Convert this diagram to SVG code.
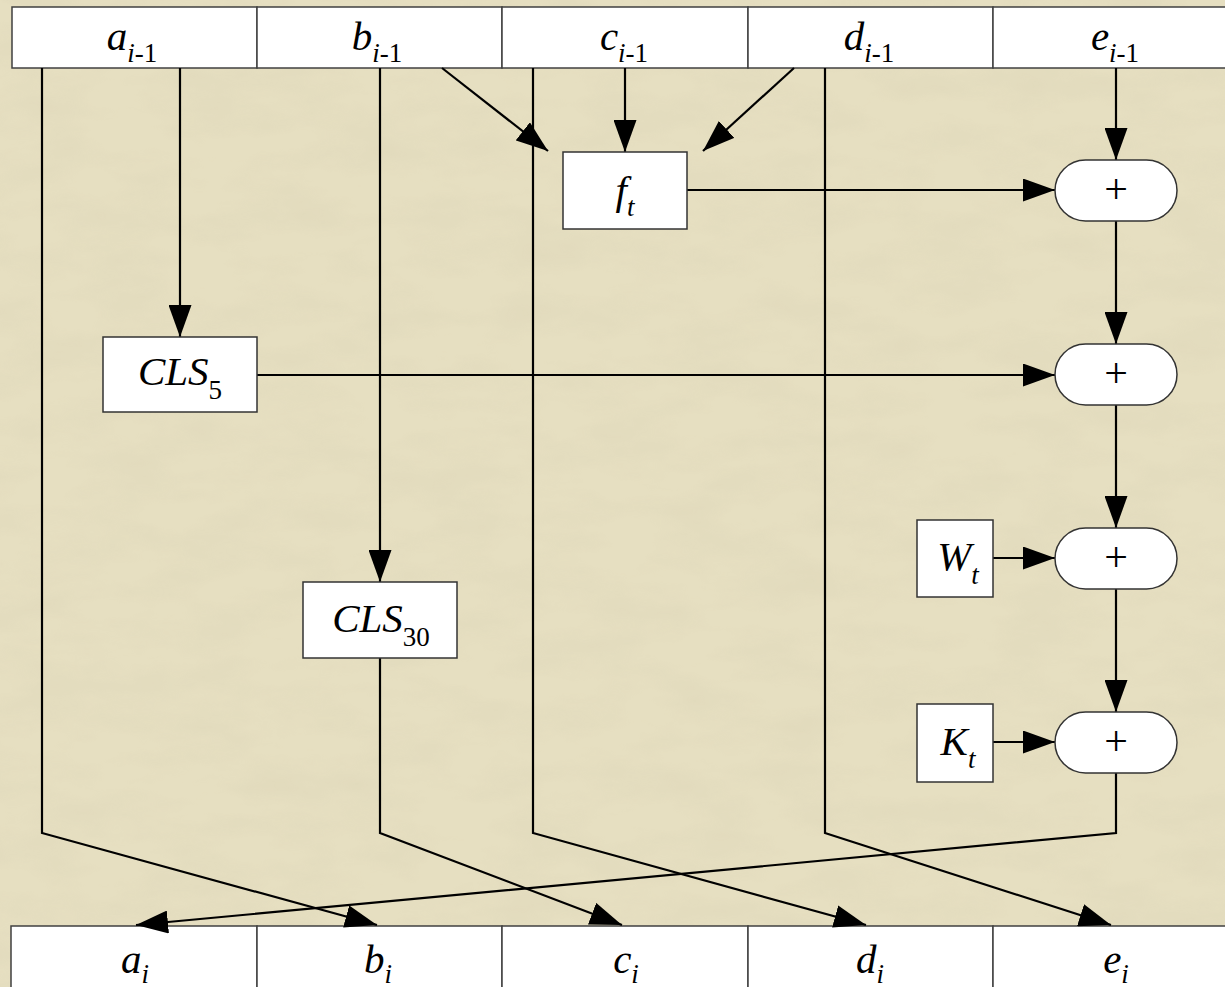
<svg xmlns="http://www.w3.org/2000/svg" width="1225" height="987" viewBox="0 0 1225 987">
<style>
.bg{fill:#e6dfc1}
.cell{fill:#ffffff;stroke:#404040;stroke-width:1.5}
.box{fill:#ffffff;stroke:#333333;stroke-width:1.5}
.wire{fill:none;stroke:#000000;stroke-width:2.2}
.t{font-family:"Liberation Serif","Times New Roman",serif;font-size:41px;fill:#000;text-anchor:middle}
.it{font-style:italic}
.sub{font-size:27px}
.plus{font-family:"Liberation Serif","Times New Roman",serif;font-size:42px;fill:#000;text-anchor:middle}
</style>
<defs>
<marker id="ah" markerUnits="userSpaceOnUse" viewBox="0 0 32 23" refX="32" refY="11.5" markerWidth="32" markerHeight="23" orient="auto">
<path d="M0,0 L32,11.5 L0,23 Z" fill="#000"/>
</marker>
<filter id="tex" x="0" y="0" width="100%" height="100%">
<feTurbulence type="fractalNoise" baseFrequency="0.012 0.03" numOctaves="4" seed="7"/>
<feColorMatrix type="matrix" values="0 0 0 0 0.55  0 0 0 0 0.5  0 0 0 0 0.35  0 0 0 0.5 -0.18"/>
</filter>
</defs>
<rect class="bg" x="0" y="0" width="1225" height="987"/>
<rect x="0" y="0" width="1225" height="987" filter="url(#tex)" opacity="0.45"/>

<g id="top-row">
<rect class="cell" x="12" y="7" width="245" height="61"/>
<rect class="cell" x="257" y="7" width="245" height="61"/>
<rect class="cell" x="502" y="7" width="246" height="61"/>
<rect class="cell" x="748" y="7" width="245" height="61"/>
<rect class="cell" x="993" y="7" width="245" height="61"/>
<text class="t" x="132" y="50"><tspan class="it">a</tspan><tspan class="it sub" dy="12">i</tspan><tspan class="sub">-1</tspan></text>
<text class="t" x="377" y="50"><tspan class="it">b</tspan><tspan class="it sub" dy="12">i</tspan><tspan class="sub">-1</tspan></text>
<text class="t" x="624" y="50"><tspan class="it">c</tspan><tspan class="it sub" dy="12">i</tspan><tspan class="sub">-1</tspan></text>
<text class="t" x="869" y="50"><tspan class="it">d</tspan><tspan class="it sub" dy="12">i</tspan><tspan class="sub">-1</tspan></text>
<text class="t" x="1115" y="50"><tspan class="it">e</tspan><tspan class="it sub" dy="12">i</tspan><tspan class="sub">-1</tspan></text>
</g>

<g id="bottom-row">
<rect class="cell" x="11" y="926" width="246" height="65"/>
<rect class="cell" x="257" y="926" width="245" height="65"/>
<rect class="cell" x="502" y="926" width="246" height="65"/>
<rect class="cell" x="748" y="926" width="245" height="65"/>
<rect class="cell" x="993" y="926" width="245" height="65"/>
<text class="t" x="135" y="973"><tspan class="it">a</tspan><tspan class="it sub" dy="10">i</tspan></text>
<text class="t" x="378" y="973"><tspan class="it">b</tspan><tspan class="it sub" dy="10">i</tspan></text>
<text class="t" x="626" y="973"><tspan class="it">c</tspan><tspan class="it sub" dy="10">i</tspan></text>
<text class="t" x="870" y="973"><tspan class="it">d</tspan><tspan class="it sub" dy="10">i</tspan></text>
<text class="t" x="1116" y="973"><tspan class="it">e</tspan><tspan class="it sub" dy="10">i</tspan></text>
</g>

<g id="connectors">
<path class="wire" d="M180,68 V337" marker-end="url(#ah)"/>
<path class="wire" d="M380,68 V582" marker-end="url(#ah)"/>
<path class="wire" d="M442,68 L548,151" marker-end="url(#ah)"/>
<path class="wire" d="M625,68 V152" marker-end="url(#ah)"/>
<path class="wire" d="M794,68 L703,151" marker-end="url(#ah)"/>
<path class="wire" d="M1116,68 V160" marker-end="url(#ah)"/>
<path class="wire" d="M687,190 H1055" marker-end="url(#ah)"/>
<path class="wire" d="M257,375 H1055" marker-end="url(#ah)"/>
<path class="wire" d="M993,558 H1055" marker-end="url(#ah)"/>
<path class="wire" d="M993,742 H1055" marker-end="url(#ah)"/>
<path class="wire" d="M1116,221 V344" marker-end="url(#ah)"/>
<path class="wire" d="M1116,405 V528" marker-end="url(#ah)"/>
<path class="wire" d="M1116,589 V712" marker-end="url(#ah)"/>
<path class="wire" d="M42,68 V833 L377,925" marker-end="url(#ah)"/>
<path class="wire" d="M380,658 V833 L622,925" marker-end="url(#ah)"/>
<path class="wire" d="M533,68 V833 L866,925" marker-end="url(#ah)"/>
<path class="wire" d="M825,68 V833 L1111,925" marker-end="url(#ah)"/>
<path class="wire" d="M1116,773 V833 L136,925" marker-end="url(#ah)"/>
</g>

<g id="f_t">
<rect class="box" x="563" y="152" width="124" height="77"/>
<text class="t" x="625" y="204"><tspan class="it">f</tspan><tspan class="it sub" dy="12">t</tspan></text>
</g>
<g id="CLS5">
<rect class="box" x="103" y="337" width="154" height="75"/>
<text class="t" x="180" y="385"><tspan class="it">CLS</tspan><tspan class="sub" dy="14">5</tspan></text>
</g>
<g id="CLS30">
<rect class="box" x="303" y="582" width="154" height="76"/>
<text class="t" x="381" y="632"><tspan class="it">CLS</tspan><tspan class="sub" dy="14">30</tspan></text>
</g>
<g id="W_t">
<rect class="box" x="917" y="520" width="76" height="77"/>
<text class="t" x="958" y="570"><tspan class="it">W</tspan><tspan class="it sub" dy="14">t</tspan></text>
</g>
<g id="K_t">
<rect class="box" x="917" y="704" width="76" height="78"/>
<text class="t" x="958" y="755"><tspan class="it">K</tspan><tspan class="it sub" dy="13">t</tspan></text>
</g>
<g id="add1">
<rect class="box" x="1055" y="160" width="122" height="61" rx="30.5"/>
<text class="plus" x="1116" y="203">+</text>
</g>
<g id="add2">
<rect class="box" x="1055" y="344" width="122" height="61" rx="30.5"/>
<text class="plus" x="1116" y="387">+</text>
</g>
<g id="add3">
<rect class="box" x="1055" y="528" width="122" height="61" rx="30.5"/>
<text class="plus" x="1116" y="571">+</text>
</g>
<g id="add4">
<rect class="box" x="1055" y="712" width="122" height="61" rx="30.5"/>
<text class="plus" x="1116" y="755">+</text>
</g>
</svg>
